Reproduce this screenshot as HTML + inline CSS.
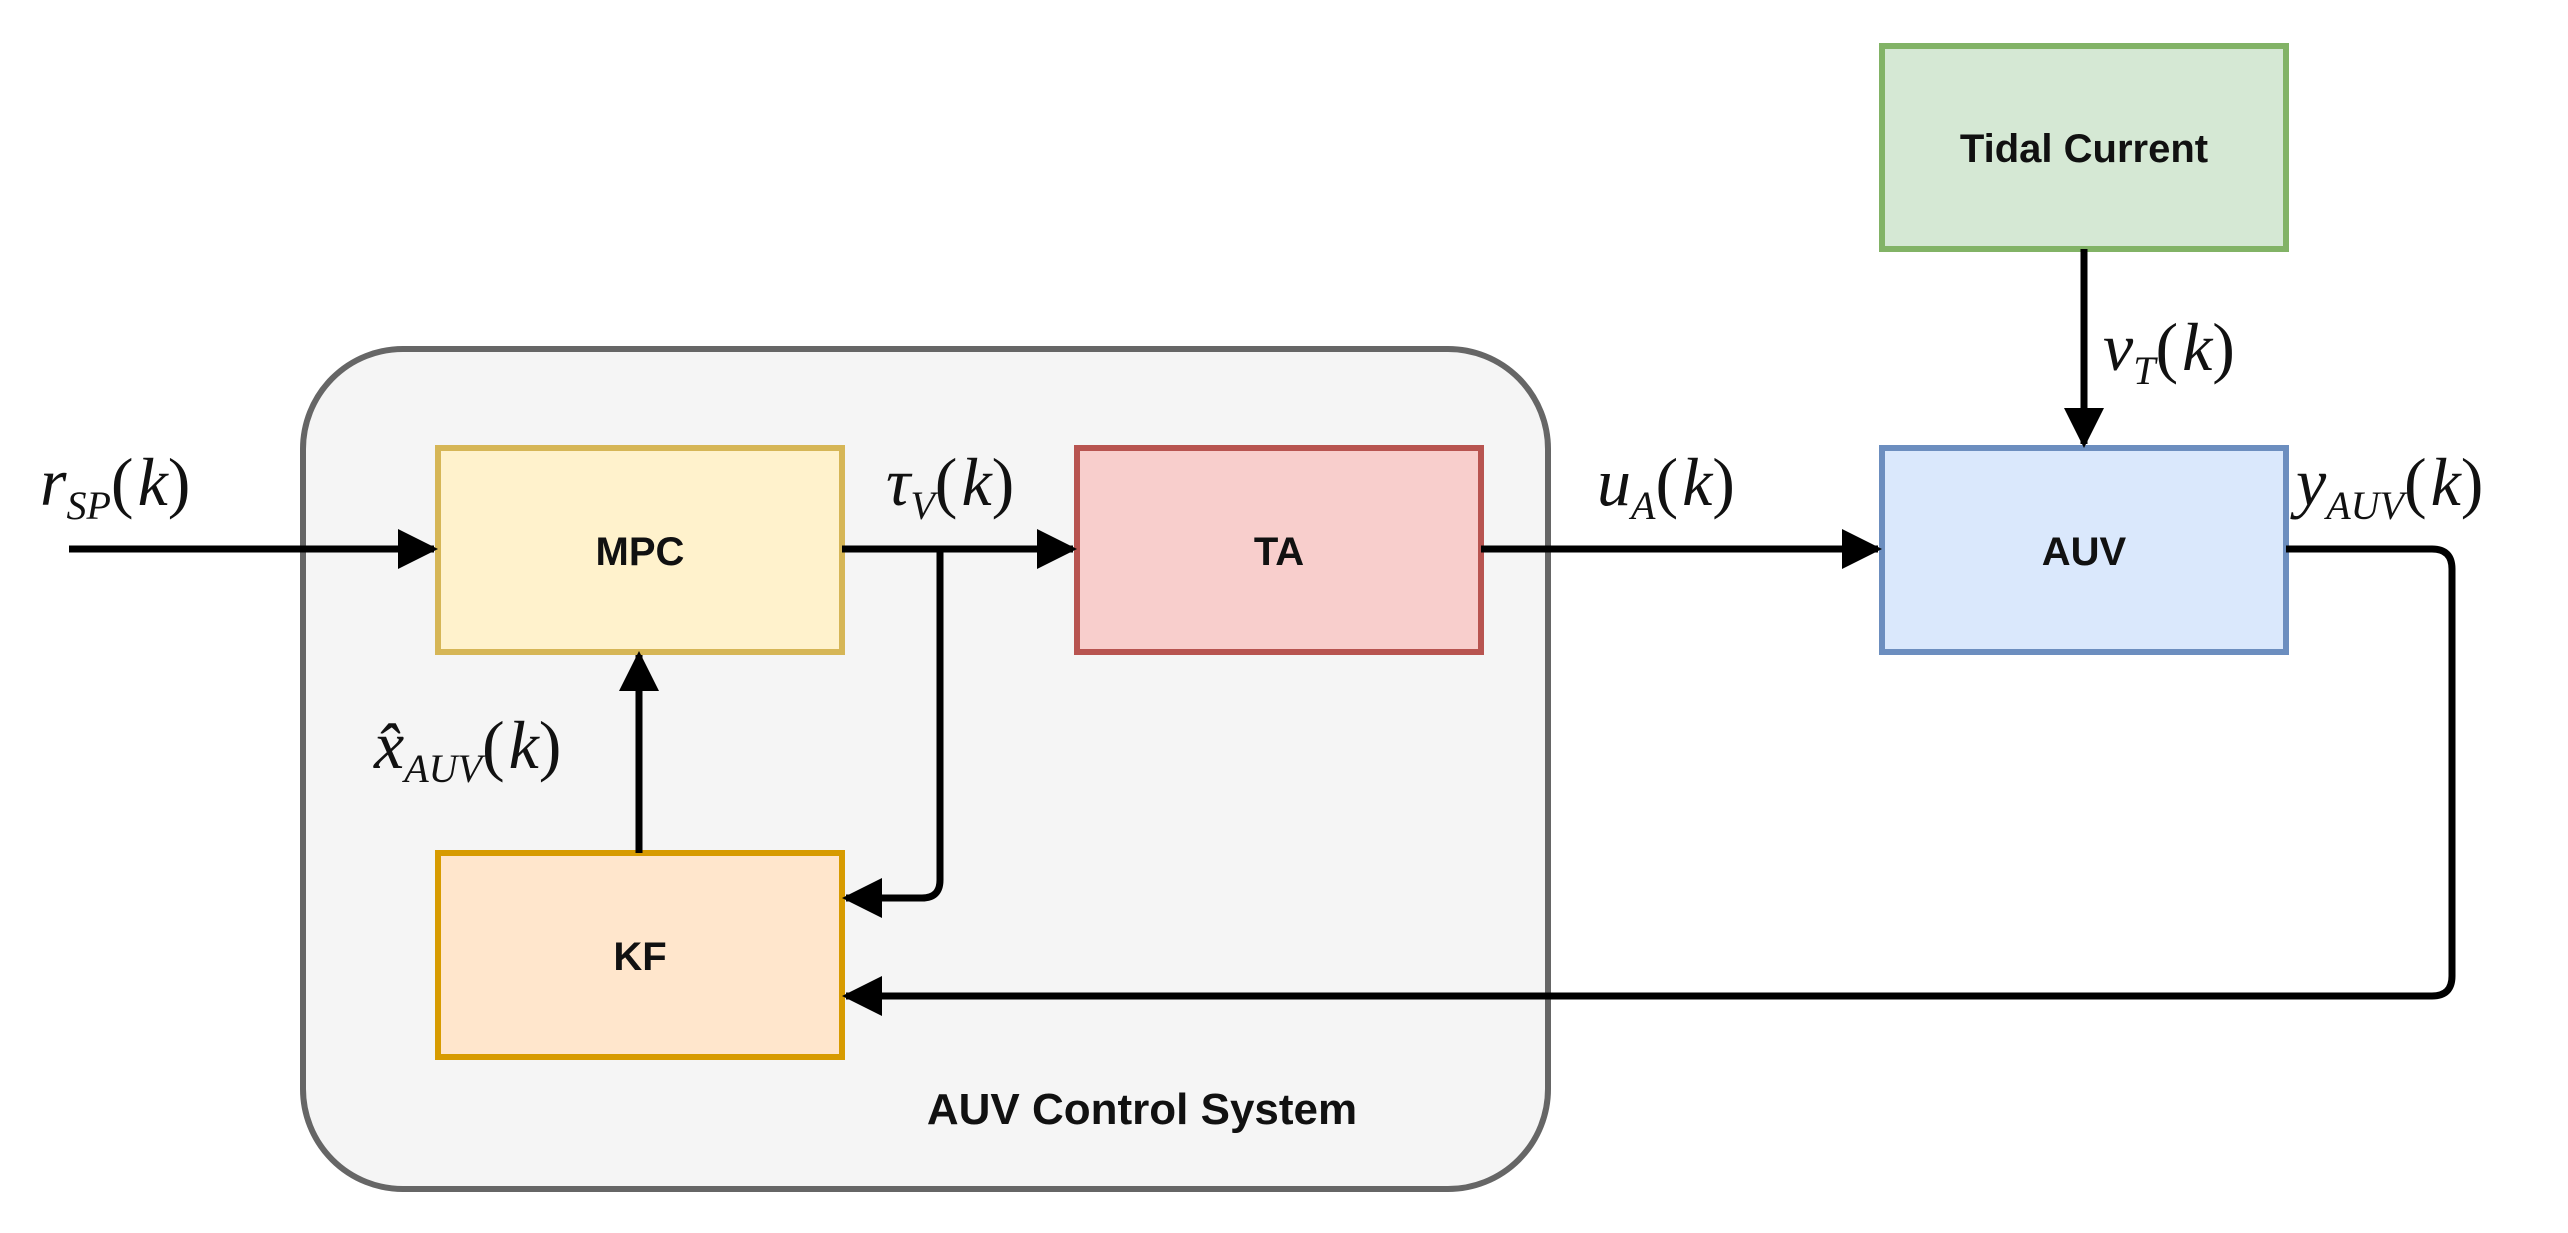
<!DOCTYPE html>
<html><head><meta charset="utf-8"><style>
html,body{margin:0;padding:0;background:#fff}
svg{display:block}
.b{font-family:"Liberation Sans",sans-serif;font-weight:bold;font-size:40px;fill:#111;text-anchor:middle}
.m{font-family:"Liberation Serif",serif;font-style:italic;font-size:68px;fill:#111}
.s{font-size:40px}
.p{font-style:normal;letter-spacing:4px}
</style></head><body>
<svg width="2568" height="1233" viewBox="0 0 2568 1233" xmlns="http://www.w3.org/2000/svg">
<defs>
<marker id="ar" viewBox="0 0 10 10" refX="9" refY="5" markerWidth="40" markerHeight="40" orient="auto" markerUnits="userSpaceOnUse"><path d="M0,0 L10,5 L0,10 z" fill="#000"/></marker></defs>
<rect x="303" y="349" width="1245" height="840" rx="100" fill="#f5f5f5" stroke="#666" stroke-width="6"/>
<rect x="438" y="448" width="404" height="204" fill="#fff2cc" stroke="#d6b656" stroke-width="6"/>
<rect x="1077" y="448" width="404" height="204" fill="#f8cecc" stroke="#b85450" stroke-width="6"/>
<rect x="438" y="853" width="404" height="204" fill="#ffe6cc" stroke="#d79b00" stroke-width="6"/>
<rect x="1882" y="448" width="404" height="204" fill="#dae8fc" stroke="#6c8ebf" stroke-width="6"/>
<rect x="1882" y="46" width="404" height="203" fill="#d5e8d4" stroke="#82b366" stroke-width="6"/>
<text class="b" x="640" y="565">MPC</text>
<text class="b" x="1279" y="565">TA</text>
<text class="b" x="640" y="970">KF</text>
<text class="b" x="2084" y="565">AUV</text>
<text class="b" x="2084" y="162">Tidal Current</text>
<text class="b" x="1142" y="1124" style="font-size:44px">AUV Control System</text>
<g stroke="#000" stroke-width="7" fill="none">
<path d="M69,549 H434" marker-end="url(#ar)"/>
<path d="M842,549 H1073" marker-end="url(#ar)"/>
<path d="M940,549 V880 Q940,898 922,898 H846" marker-end="url(#ar)"/>
<path d="M639,853 V655" marker-end="url(#ar)"/>
<path d="M1481,549 H1878" marker-end="url(#ar)"/>
<path d="M2084,249 V444" marker-end="url(#ar)"/>
<path d="M2286,549 H2432 Q2452,549 2452,569 V976 Q2452,996 2432,996 H846" marker-end="url(#ar)"/>
</g>
<text class="m" x="40" y="505">r<tspan class="s" dy="14">SP</tspan><tspan class="p" dy="-14">(</tspan>k<tspan class="p">)</tspan></text>
<text class="m" x="886" y="505">τ<tspan class="s" dy="14">V</tspan><tspan class="p" dy="-14">(</tspan>k<tspan class="p">)</tspan></text>
<text class="m" x="1597" y="505">u<tspan class="s" dy="14">A</tspan><tspan class="p" dy="-14">(</tspan>k<tspan class="p">)</tspan></text>
<text class="m" x="2296" y="505">y<tspan class="s" dy="14">AUV</tspan><tspan class="p" dy="-14">(</tspan>k<tspan class="p">)</tspan></text>
<text class="m" x="2103" y="370">v<tspan class="s" dy="14">T</tspan><tspan class="p" dy="-14">(</tspan>k<tspan class="p">)</tspan></text>
<text class="m" x="374" y="768">x̂<tspan class="s" dy="14">AUV</tspan><tspan class="p" dy="-14">(</tspan>k<tspan class="p">)</tspan></text>
</svg>
</body></html>
